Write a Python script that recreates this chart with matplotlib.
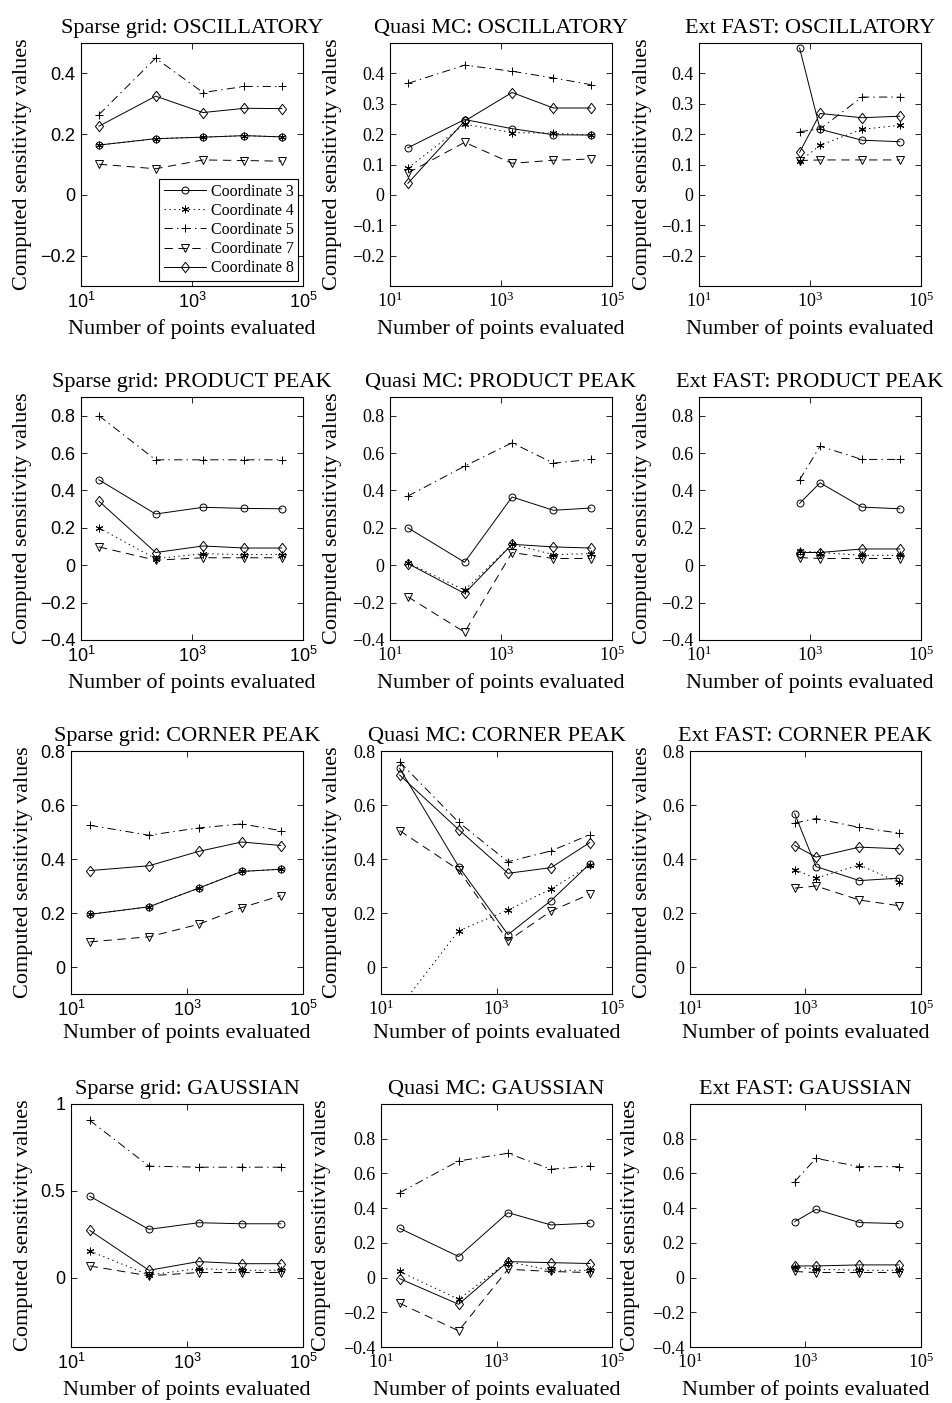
import numpy as np
import matplotlib.pyplot as plt

plt.rcParams['mathtext.default'] = 'regular'
plt.rcParams['lines.scale_dashes'] = False

coords = ['Coordinate 3', 'Coordinate 4', 'Coordinate 5', 'Coordinate 7', 'Coordinate 8']
methods = ['Sparse grid', 'Quasi MC', 'Ext FAST']
functions = ['OSCILLATORY', 'PRODUCT PEAK', 'CORNER PEAK', 'GAUSSIAN']

# number of points evaluated
n_sparse = [21, 221, 1581, 8801, 41265]
n_qmc = [21, 221, 1581, 8801, 41265]
n_fast = [650, 1520, 8600, 41500]

# rows: coordinate 3, 4, 5, 7, 8
sg_osc = [[0.164, 0.185, 0.190, 0.195, 0.191],
          [0.164, 0.185, 0.190, 0.195, 0.191],
          [0.264, 0.450, 0.337, 0.357, 0.357],
          [0.101, 0.086, 0.115, 0.113, 0.111],
          [0.226, 0.325, 0.271, 0.285, 0.284]]
qmc_osc = [[0.155, 0.248, 0.218, 0.198, 0.197],
           [0.088, 0.233, 0.205, 0.203, 0.197],
           [0.367, 0.427, 0.407, 0.385, 0.363],
           [0.072, 0.173, 0.104, 0.114, 0.118],
           [0.038, 0.243, 0.337, 0.286, 0.286]]
fast_osc = [[0.483, 0.216, 0.180, 0.175],
            [0.111, 0.163, 0.216, 0.229],
            [0.208, 0.217, 0.322, 0.322],
            [0.113, 0.115, 0.115, 0.115],
            [0.140, 0.268, 0.254, 0.259]]

sg_pp = [[0.457, 0.274, 0.310, 0.304, 0.302],
         [0.200, 0.035, 0.062, 0.057, 0.057],
         [0.800, 0.564, 0.564, 0.564, 0.564],
         [0.098, 0.027, 0.040, 0.040, 0.040],
         [0.343, 0.068, 0.103, 0.092, 0.092]]
qmc_pp = [[0.200, 0.016, 0.365, 0.294, 0.306],
          [0.012, -0.133, 0.112, 0.057, 0.062],
          [0.370, 0.530, 0.655, 0.546, 0.566],
          [-0.169, -0.358, 0.068, 0.036, 0.036],
          [0.009, -0.151, 0.112, 0.098, 0.092]]
fast_pp = [[0.331, 0.441, 0.311, 0.302],
           [0.077, 0.068, 0.053, 0.053],
           [0.457, 0.637, 0.566, 0.566],
           [0.041, 0.036, 0.036, 0.036],
           [0.068, 0.068, 0.087, 0.087]]

sg_cp = [[0.195, 0.223, 0.292, 0.354, 0.362],
         [0.195, 0.223, 0.292, 0.354, 0.362],
         [0.525, 0.488, 0.515, 0.530, 0.505],
         [0.093, 0.112, 0.158, 0.220, 0.264],
         [0.357, 0.375, 0.428, 0.463, 0.450]]
qmc_cp = [[0.736, 0.372, 0.120, 0.246, 0.382],
          [-0.150, 0.134, 0.211, 0.289, 0.376],
          [0.760, 0.536, 0.390, 0.430, 0.490],
          [0.505, 0.360, 0.097, 0.207, 0.270],
          [0.711, 0.509, 0.347, 0.368, 0.461]]
fast_cp = [[0.568, 0.372, 0.320, 0.329],
           [0.360, 0.329, 0.378, 0.313],
           [0.533, 0.550, 0.517, 0.496],
           [0.292, 0.300, 0.248, 0.227],
           [0.450, 0.407, 0.444, 0.438]]

sg_gauss = [[0.469, 0.278, 0.316, 0.310, 0.310],
            [0.153, 0.015, 0.052, 0.042, 0.042],
            [0.906, 0.642, 0.636, 0.636, 0.636],
            [0.067, 0.010, 0.029, 0.029, 0.029],
            [0.272, 0.042, 0.092, 0.080, 0.080]]
qmc_gauss = [[0.284, 0.121, 0.374, 0.303, 0.313],
             [0.035, -0.125, 0.092, 0.042, 0.042],
             [0.489, 0.672, 0.716, 0.624, 0.643],
             [-0.148, -0.307, 0.048, 0.035, 0.029],
             [-0.006, -0.154, 0.092, 0.086, 0.081]]
fast_gauss = [[0.322, 0.393, 0.317, 0.311],
              [0.061, 0.048, 0.042, 0.042],
              [0.553, 0.687, 0.639, 0.639],
              [0.035, 0.029, 0.029, 0.029],
              [0.067, 0.067, 0.073, 0.073]]

panels = [[sg_osc, qmc_osc, fast_osc],
          [sg_pp, qmc_pp, fast_pp],
          [sg_cp, qmc_cp, fast_cp],
          [sg_gauss, qmc_gauss, fast_gauss]]
xs = [n_sparse, n_qmc, n_fast]

ylims = [[(-0.3, 0.5)] * 3, [(-0.4, 0.9)] * 3, [(-0.1, 0.8)] * 3, [(-0.4, 1.0)] * 3]
yticks = [[[-0.2, 0, 0.2, 0.4], [-0.2, -0.1, 0, 0.1, 0.2, 0.3, 0.4], [-0.2, -0.1, 0, 0.1, 0.2, 0.3, 0.4]],
          [[-0.4, -0.2, 0, 0.2, 0.4, 0.6, 0.8]] * 3,
          [[0, 0.2, 0.4, 0.6, 0.8]] * 3,
          [[0, 0.5, 1], [-0.4, -0.2, 0, 0.2, 0.4, 0.6, 0.8], [-0.4, -0.2, 0, 0.2, 0.4, 0.6, 0.8]]]

# matlab-like diamond (a bit taller than wide)
diamond = [(0, 1), (0.78, 0), (0, -1), (-0.78, 0), (0, 1)]
styles = [((0, None), 'o', 5),
          ((0, (1, 2.5)), (6, 2, 0), 5.5),
          ((0, (6, 3, 1, 3)), '+', 6),
          ((0, (6, 4)), 'v', 5.5),
          ((0, None), diamond, 7.5)]

W, H = 953, 1403
fig = plt.figure(figsize=(W / 100, H / 100), dpi=100)

row_tb = [(43, 286), (397, 640), (751, 994), (1104, 1347)]
col_lr = [[(81, 303), (390, 612), (699, 921)],
          [(81, 303), (390, 612), (699, 921)],
          [(71, 303), (381, 612), (690, 921)],
          [(71, 303), (381, 612), (690, 921)]]
ylab_off = [[49, 48, 47], [49, 48, 47], [38, 39, 38], [38, 50, 50]]
xlab_off = [33, 33, 29, 33]

serif = 'Liberation Serif'
sans = 'Liberation Sans'

for r in range(4):
    for c in range(3):
        top, bot = row_tb[r]
        left, right = col_lr[r][c]
        ax = fig.add_axes([left / W, 1 - bot / H, (right - left) / W, (bot - top) / H])
        data = panels[r][c]
        for k in range(5):
            ls, mk, ms = styles[k]
            if ls[1] is None:
                ls = '-'
            ax.plot(xs[c], data[k], linestyle=ls, marker=mk, markersize=ms, color='k',
                    markerfacecolor='none', markeredgecolor='k', linewidth=0.7,
                    markeredgewidth=0.7, label=coords[k])
        ax.set_xscale('log')
        ax.set_xlim(10, 1e5)
        ax.set_ylim(*ylims[r][c])
        tfont = sans if c == 0 else serif
        ax.set_xticks([10, 1000, 100000])
        ax.set_xticklabels(['$10^{1}$', '$10^{3}$', '$10^{5}$'], fontfamily=tfont, fontsize=13)
        ax.minorticks_off()
        yt = yticks[r][c]
        ax.set_yticks(yt)
        ax.set_yticklabels([('%g' % v).replace('-', '\u2212') for v in yt],
                           fontfamily=tfont, fontsize=13)
        ax.tick_params(direction='in', top=True, right=True, length=4, width=0.6, pad=4)
        for sp in ax.spines.values():
            sp.set_linewidth(0.8)
        ax.set_title(methods[c] + ': ' + functions[r], fontfamily=serif, fontsize=16, pad=7)
        ax.set_ylabel('Computed sensitivity values', fontfamily=serif, fontsize=16)
        ax.yaxis.set_label_coords(-ylab_off[r][c] / (right - left), 0.5)
        ax.set_xlabel('Number of points evaluated', fontfamily=serif, fontsize=16)
        ax.xaxis.set_label_coords(0.5, -xlab_off[r] / (bot - top))
        if r == 0 and c == 0:
            leg = ax.legend(loc='lower right', prop={'family': serif, 'size': 11.5},
                            handlelength=2.6, labelspacing=0.2, borderaxespad=0.3,
                            fancybox=False, edgecolor='k', framealpha=1,
                            handletextpad=0.3, borderpad=0.3)
            leg.get_frame().set_linewidth(0.8)

fig.savefig('out.png', dpi=100)
